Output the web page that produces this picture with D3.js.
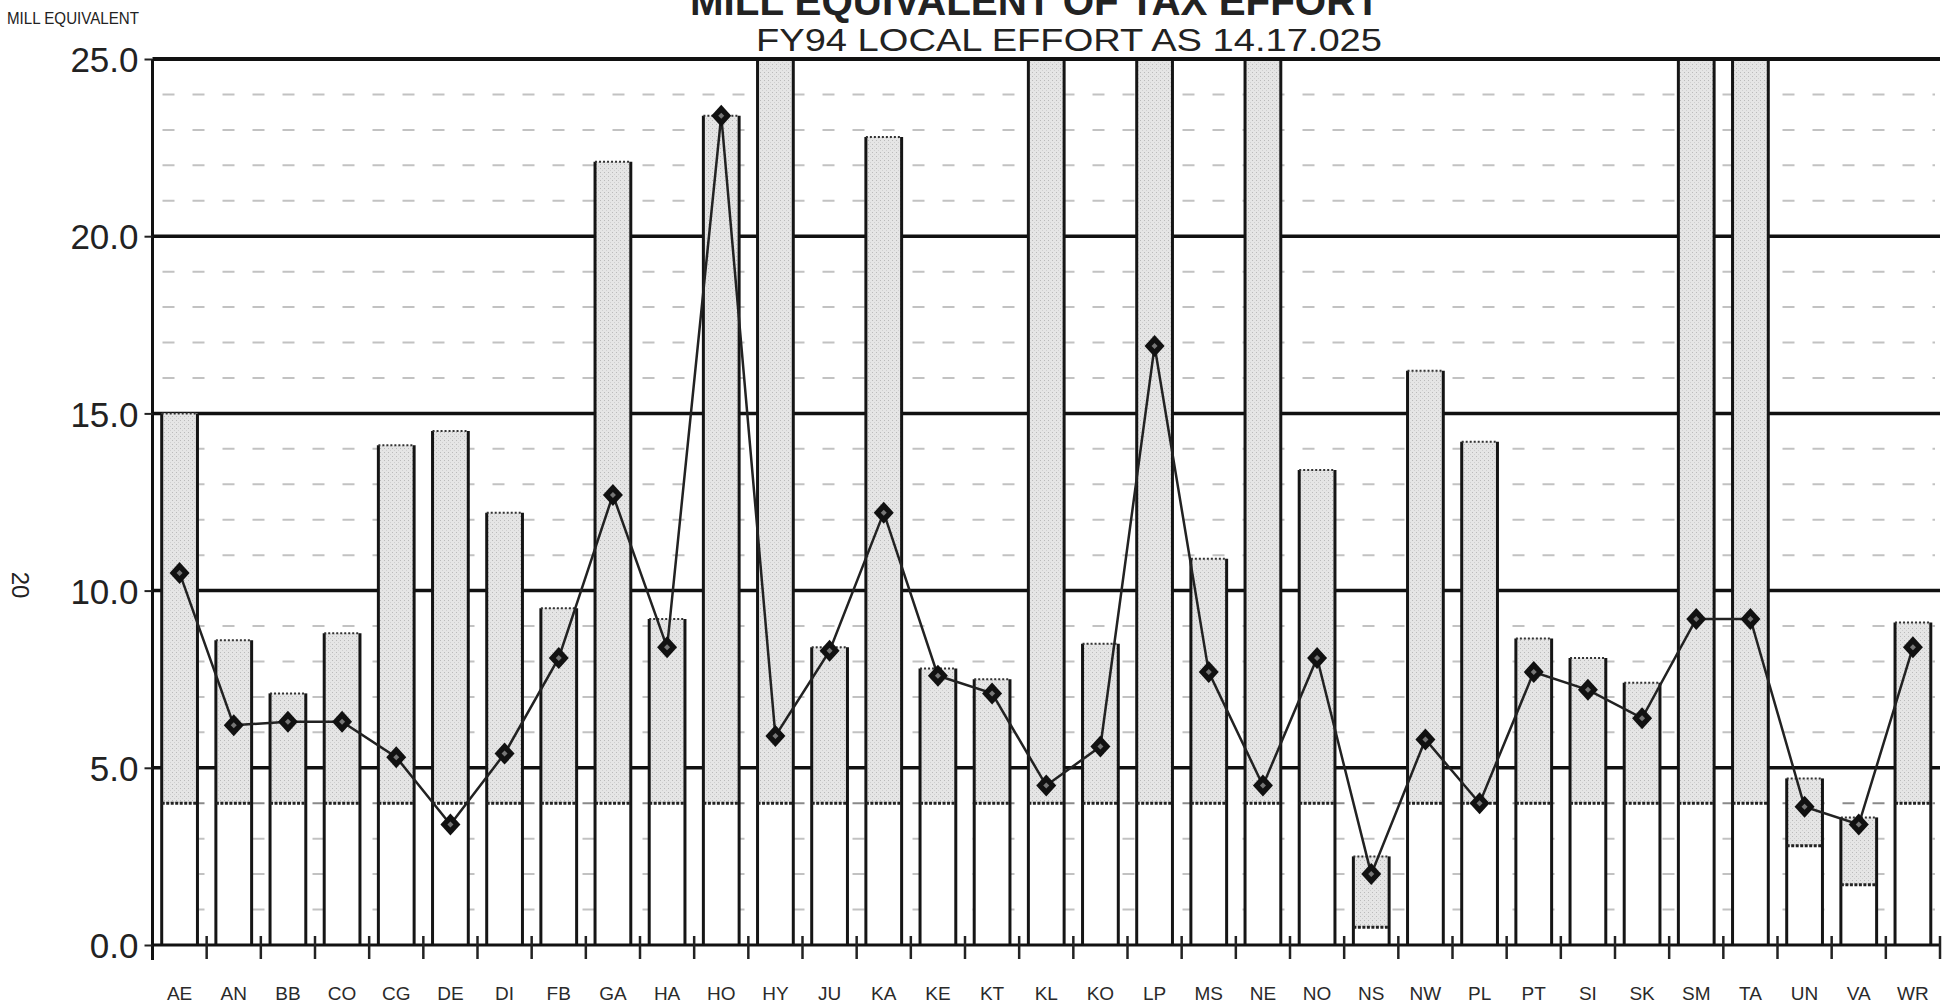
<!DOCTYPE html>
<meta charset="utf-8">
<style>
    body { margin: 0; background: #fff; }
    svg text { font-family: "Liberation Sans", Arial, sans-serif; fill: #222; }
</style>
<svg width="1944" height="1005"></svg>
<script src="https://d3js.org/d3.v7.min.js"></script>
<script>

    // districts along the x axis
    var districts = ["AE","AN","BB","CO","CG","DE","DI","FB","GA","HA","HO","HY","JU","KA","KE","KT","KL",
                     "KO","LP","MS","NE","NO","NS","NW","PL","PT","SI","SK","SM","TA","UN","VA","WR"];

    // top of each column (mill equivalent); 26 = runs off the top of the chart
    var capacity = [15.0, 8.6, 7.1, 8.8, 14.1, 14.5, 12.2, 9.5, 22.1, 9.2, 23.4, 26, 8.4, 22.8, 7.8, 7.5, 26,
                    8.5, 26, 10.9, 26, 13.4, 2.5, 16.2, 14.2, 8.65, 8.1, 7.4, 26, 26, 4.7, 3.6, 9.1];

    // bottom of the shaded part of each column
    var floorLevel = [4.0, 4.0, 4.0, 4.0, 4.0, 4.0, 4.0, 4.0, 4.0, 4.0, 4.0, 4.0, 4.0, 4.0, 4.0, 4.0, 4.0,
                      4.0, 4.0, 4.0, 4.0, 4.0, 0.5, 4.0, 4.0, 4.0, 4.0, 4.0, 4.0, 4.0, 2.8, 1.7, 4.0];

    // FY94 local effort (diamonds)
    var effort = [10.5, 6.2, 6.3, 6.3, 5.3, 3.4, 5.4, 8.1, 12.7, 8.4, 23.4, 5.9, 8.3, 12.2, 7.6, 7.1, 4.5,
                  5.6, 16.9, 7.7, 4.5, 8.1, 2.0, 5.8, 4.0, 7.7, 7.2, 6.4, 9.2, 9.2, 3.9, 3.4, 8.4];

    var yTicks = [0, 5, 10, 15, 20, 25];

    var svg = d3.select("svg"),
        width = +svg.attr("width"),
        height = +svg.attr("height");

    var plotLeft = 152.5, plotRight = 1940, plotTop = 59, plotBottom = 945;

    var rows = districts.map(function(d, i) {
        return {id: d, cap: capacity[i], base: floorLevel[i], eff: effort[i]};
    });

    var x = d3.scaleBand()
        .domain(districts)
        .range([plotLeft, plotRight])
        .paddingInner(0.34)
        .paddingOuter(0.17);

    var y = d3.scaleLinear()
        .domain([0, 25])
        .range([plotBottom, plotTop])
        .clamp(true);

    // stipple for the shaded part of the columns
    var pat = svg.append("defs").append("pattern")
        .attr("id", "stipple")
        .attr("width", 4).attr("height", 4)
        .attr("patternUnits", "userSpaceOnUse");
    pat.append("rect").attr("width", 4).attr("height", 4).attr("fill", "#e5e5e5");
    pat.append("rect").attr("width", 1).attr("height", 1).attr("fill", "#bababa");
    pat.append("rect").attr("x", 2).attr("y", 2).attr("width", 1).attr("height", 1).attr("fill", "#cfcfcf");

    // minor dashed grid
    var minor = d3.range(1, 25).filter(function(v) { return v % 5 != 0; });
    svg.append("g").selectAll("line")
        .data(minor)
        .enter().append("line")
        .attr("x1", plotLeft + 10).attr("x2", plotRight - 5)
        .attr("y1", function(d) { return y(d); })
        .attr("y2", function(d) { return y(d); })
        .attr("stroke", function(d) { return d == 4 ? "#8a8a8a" : "#c2c2c2"; })
        .attr("stroke-width", 2)
        .attr("stroke-dasharray", "12,18");

    // major grid
    svg.append("g").selectAll("line")
        .data(yTicks.filter(function(v) { return v > 0 && v < 25; }))
        .enter().append("line")
        .attr("x1", plotLeft).attr("x2", plotRight)
        .attr("y1", function(d) { return y(d); })
        .attr("y2", function(d) { return y(d); })
        .attr("stroke", "#111")
        .attr("stroke-width", 3.5);

    // columns
    var bar = svg.append("g")
        .selectAll("g")
        .data(rows)
        .enter().append("g");

    bar.append("rect")
        .attr("x", function(d) { return x(d.id); })
        .attr("width", x.bandwidth())
        .attr("y", function(d) { return y(d.cap); })
        .attr("height", function(d) { return y(0) - y(d.cap); })
        .attr("fill", "#fff");

    bar.append("rect")
        .attr("x", function(d) { return x(d.id); })
        .attr("width", x.bandwidth())
        .attr("y", function(d) { return y(d.cap); })
        .attr("height", function(d) { return y(d.base) - y(d.cap); })
        .attr("fill", "url(#stipple)");

    [0, 1].forEach(function(side) {
        bar.append("line")
            .attr("x1", function(d) { return x(d.id) + side * x.bandwidth(); })
            .attr("x2", function(d) { return x(d.id) + side * x.bandwidth(); })
            .attr("y1", function(d) { return y(d.cap); })
            .attr("y2", y(0))
            .attr("stroke", "#151515")
            .attr("stroke-width", 3);
    });

    bar.filter(function(d) { return d.cap < 25; })
        .append("line")
        .attr("x1", function(d) { return x(d.id); })
        .attr("x2", function(d) { return x(d.id) + x.bandwidth(); })
        .attr("y1", function(d) { return y(d.cap); })
        .attr("y2", function(d) { return y(d.cap); })
        .attr("stroke", "#333")
        .attr("stroke-width", 2)
        .attr("stroke-dasharray", "2,2");

    bar.append("line")
        .attr("x1", function(d) { return x(d.id); })
        .attr("x2", function(d) { return x(d.id) + x.bandwidth(); })
        .attr("y1", function(d) { return y(d.base); })
        .attr("y2", function(d) { return y(d.base); })
        .attr("stroke", "#222")
        .attr("stroke-width", 3)
        .attr("stroke-dasharray", "3,1.5");

    // top frame line
    svg.append("line")
        .attr("x1", plotLeft).attr("x2", plotRight)
        .attr("y1", y(25)).attr("y2", y(25))
        .attr("stroke", "#111")
        .attr("stroke-width", 4);

    // x axis: baseline, boundary ticks, labels
    svg.append("line")
        .attr("x1", plotLeft).attr("x2", plotRight)
        .attr("y1", y(0)).attr("y2", y(0))
        .attr("stroke", "#111")
        .attr("stroke-width", 3);

    var bounds = d3.range(1, districts.length + 1).map(function(i) { return plotLeft + i * x.step(); });
    svg.append("g").selectAll("line")
        .data(bounds)
        .enter().append("line")
        .attr("x1", function(d) { return d; })
        .attr("x2", function(d) { return d; })
        .attr("y1", y(0) - 9)
        .attr("y2", y(0) + 14)
        .attr("stroke", "#222")
        .attr("stroke-width", 2.5);

    var xAxis = d3.axisBottom(x).tickSize(0).tickPadding(0);
    svg.append("g")
        .attr("transform", "translate(0," + y(0) + ")")
        .call(xAxis)
        .call(function(g) { g.select(".domain").remove(); })
        .call(function(g) {
            g.selectAll("text")
                .attr("y", 55)
                .attr("dy", null)
                .attr("font-size", 19)
                .style("fill", "#2a2a2a");
        });

    // y axis
    svg.append("line")
        .attr("x1", plotLeft).attr("x2", plotLeft)
        .attr("y1", y(25)).attr("y2", y(0) + 15)
        .attr("stroke", "#111")
        .attr("stroke-width", 3);

    var yAxis = d3.axisLeft(y)
        .tickValues(yTicks)
        .tickFormat(d3.format(".1f"))
        .tickSize(8)
        .tickPadding(6);
    svg.append("g")
        .attr("transform", "translate(" + plotLeft + ",0)")
        .call(yAxis)
        .call(function(g) { g.select(".domain").remove(); })
        .call(function(g) { g.selectAll(".tick line").attr("stroke", "#222").attr("stroke-width", 2); })
        .call(function(g) {
            g.selectAll("text")
                .attr("font-size", 35)
                .attr("dy", "0.36em");
        });

    // effort line with diamonds
    var line = d3.line()
        .x(function(d) { return x(d.id) + x.bandwidth() / 2; })
        .y(function(d) { return y(d.eff); });

    svg.append("path")
        .datum(rows)
        .attr("d", line)
        .attr("fill", "none")
        .attr("stroke", "#222")
        .attr("stroke-width", 2.5);

    var dots = svg.append("g").selectAll("g")
        .data(rows)
        .enter().append("g")
        .attr("transform", function(d) {
            return "translate(" + (x(d.id) + x.bandwidth() / 2) + "," + y(d.eff) + ")";
        });
    dots.append("path")
        .attr("d", "M0,-11L10,0L0,11L-10,0Z")
        .attr("fill", "#111");
    dots.append("path")
        .attr("d", "M0,-3L3,0L0,3L-3,0Z")
        .attr("fill", "#777");

    // texts
    svg.append("text")
        .attr("x", 690).attr("y", 15)
        .attr("font-size", 40)
        .attr("font-weight", "bold")
        .attr("textLength", 690)
        .attr("lengthAdjust", "spacingAndGlyphs")
        .text("MILL EQUIVALENT OF TAX EFFORT");

    svg.append("text")
        .attr("x", 756).attr("y", 51)
        .attr("font-size", 31)
        .attr("textLength", 626)
        .attr("lengthAdjust", "spacingAndGlyphs")
        .text("FY94 LOCAL EFFORT AS 14.17.025");

    svg.append("text")
        .attr("x", 7).attr("y", 24)
        .attr("font-size", 17)
        .attr("textLength", 132)
        .attr("lengthAdjust", "spacingAndGlyphs")
        .text("MILL EQUIVALENT");

    svg.append("text")
        .attr("transform", "translate(12,585) rotate(90)")
        .attr("text-anchor", "middle")
        .attr("font-size", 24)
        .text("20");

</script>
